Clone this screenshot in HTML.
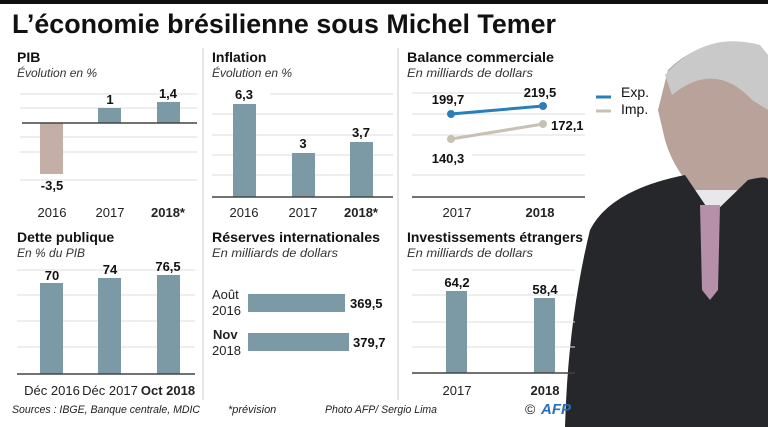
<!DOCTYPE html>
<html><head><meta charset="utf-8"><style>
html,body{margin:0;padding:0;background:#fff;}
svg{display:block;font-family:"Liberation Sans",sans-serif;}
.t{font-weight:bold;font-size:14px;fill:#111}
.s{font-style:italic;font-size:12px;fill:#333}
.v{font-weight:bold;font-size:13px;fill:#111}
.y{font-size:13px;fill:#222}
.g{stroke:#ddd;stroke-width:1}
.a{stroke:#444;stroke-width:1.5}
.b{fill:#7b9aa6}
</style></head><body>
<svg width="768" height="427" viewBox="0 0 768 427">
<rect x="0" y="0" width="768" height="4" fill="#111"/>
<text x="12" y="33" font-size="27" font-weight="bold" fill="#111" textLength="544" lengthAdjust="spacingAndGlyphs">L’économie brésilienne sous Michel Temer</text>
<line x1="203" y1="48" x2="203" y2="400" stroke="#ccc"/>
<line x1="398" y1="48" x2="398" y2="400" stroke="#ccc"/>
<!-- photo approximation -->
<path d="M668 70 Q700 38 745 45 L768 60 L768 200 L740 205 L705 200 Q675 175 665 140 L658 110 Z" fill="#b8a29a"/>
<path d="M665 75 Q705 30 760 45 L768 55 L768 110 L752 100 Q715 60 672 95 Z" fill="#c9c9c9"/>
<path d="M690 190 L745 190 L752 225 L712 260 L682 225 Z" fill="#e8e8ea"/>
<path d="M590 230 Q610 190 685 175 L712 215 L748 180 Q768 175 768 180 L768 427 L565 427 Q568 320 590 230 Z" fill="#26272b"/>
<path d="M700 205 L720 205 L718 290 L710 300 L702 290 Z" fill="#b68fa8"/>
<!-- PIB -->
<text class="t" x="17" y="62">PIB</text><text class="s" x="17" y="77">Évolution en %</text>
<g class="g"><line x1="20" y1="94" x2="197" y2="94"/><line x1="20" y1="108" x2="197" y2="108"/><line x1="20" y1="137" x2="197" y2="137"/><line x1="20" y1="152" x2="197" y2="152"/><line x1="20" y1="180" x2="197" y2="180"/></g>
<rect x="40" y="123" width="23" height="51" fill="#c4afa6"/>
<rect class="b" x="98" y="108" width="23" height="15"/><rect class="b" x="157" y="102" width="23" height="21"/>
<line class="a" x1="22" y1="123" x2="197" y2="123"/>
<text class="v" x="52" y="190" text-anchor="middle">-3,5</text><text class="v" x="110" y="104" text-anchor="middle">1</text><text class="v" x="168" y="98" text-anchor="middle">1,4</text>
<text class="y" x="52" y="217" text-anchor="middle">2016</text><text class="y" x="110" y="217" text-anchor="middle">2017</text><text class="y" x="168" y="217" text-anchor="middle" font-weight="bold">2018*</text>
<!-- Inflation -->
<text class="t" x="212" y="62">Inflation</text><text class="s" x="212" y="77">Évolution en %</text>
<g class="g"><line x1="270" y1="94" x2="393" y2="94"/><line x1="212" y1="114" x2="393" y2="114"/><line x1="212" y1="135" x2="393" y2="135"/><line x1="212" y1="155" x2="393" y2="155"/><line x1="212" y1="175" x2="393" y2="175"/></g>
<rect class="b" x="233" y="104" width="23" height="93"/><rect class="b" x="292" y="153" width="23" height="44"/><rect class="b" x="350" y="142" width="23" height="55"/>
<line class="a" x1="212" y1="197" x2="393" y2="197"/>
<text class="v" x="244" y="99" text-anchor="middle">6,3</text><text class="v" x="303" y="148" text-anchor="middle">3</text><text class="v" x="361" y="137" text-anchor="middle">3,7</text>
<text class="y" x="244" y="217" text-anchor="middle">2016</text><text class="y" x="303" y="217" text-anchor="middle">2017</text><text class="y" x="361" y="217" text-anchor="middle" font-weight="bold">2018*</text>
<!-- Balance -->
<text class="t" x="407" y="62" textLength="147" lengthAdjust="spacingAndGlyphs">Balance commerciale</text><text class="s" x="407" y="77" textLength="126" lengthAdjust="spacingAndGlyphs">En milliards de dollars</text>
<g class="g"><line x1="412" y1="93" x2="530" y2="93"/><line x1="412" y1="114" x2="585" y2="114"/><line x1="412" y1="135" x2="585" y2="135"/><line x1="472" y1="155" x2="585" y2="155"/><line x1="412" y1="175" x2="585" y2="175"/></g>
<line class="a" x1="412" y1="197" x2="585" y2="197"/>
<line x1="451" y1="114" x2="543" y2="106" stroke="#2a7fba" stroke-width="3"/>
<circle cx="451" cy="114" r="4" fill="#2a7fba"/><circle cx="543" cy="106" r="4" fill="#2a7fba"/>
<line x1="451" y1="139" x2="543" y2="124" stroke="#c8c0b4" stroke-width="3"/>
<circle cx="451" cy="139" r="4" fill="#c8c0b4"/><circle cx="543" cy="124" r="4" fill="#c8c0b4"/>
<text class="v" x="448" y="104" text-anchor="middle">199,7</text><text class="v" x="540" y="97" text-anchor="middle">219,5</text>
<text class="v" x="448" y="163" text-anchor="middle">140,3</text><text class="v" x="551" y="130">172,1</text>
<text class="y" x="457" y="217" text-anchor="middle">2017</text><text class="y" x="540" y="217" text-anchor="middle" font-weight="bold">2018</text>
<line x1="596" y1="97" x2="611" y2="97" stroke="#2a7fba" stroke-width="3"/><text x="621" y="97" font-size="14" fill="#111">Exp.</text>
<line x1="596" y1="111" x2="611" y2="111" stroke="#c8c0b4" stroke-width="3"/><text x="621" y="114" font-size="14" fill="#111">Imp.</text>
<!-- Dette -->
<text class="t" x="17" y="242">Dette publique</text><text class="s" x="17" y="257">En % du PIB</text>
<g class="g"><line x1="17" y1="270" x2="195" y2="270"/><line x1="17" y1="295" x2="195" y2="295"/><line x1="17" y1="321" x2="195" y2="321"/><line x1="17" y1="347" x2="195" y2="347"/></g>
<rect class="b" x="40" y="283" width="23" height="91"/><rect class="b" x="98" y="278" width="23" height="96"/><rect class="b" x="157" y="275" width="23" height="99"/>
<line class="a" x1="17" y1="374" x2="195" y2="374"/>
<text class="v" x="52" y="280" text-anchor="middle">70</text><text class="v" x="110" y="274" text-anchor="middle">74</text><text class="v" x="168" y="271" text-anchor="middle">76,5</text>
<text class="y" x="52" y="395" text-anchor="middle" font-size="12">Déc 2016</text><text class="y" x="110" y="395" text-anchor="middle" font-size="12">Déc 2017</text><text class="y" x="168" y="395" text-anchor="middle" font-size="12" font-weight="bold">Oct 2018</text>
<!-- Reserves -->
<text class="t" x="212" y="242" textLength="168" lengthAdjust="spacingAndGlyphs">Réserves internationales</text><text class="s" x="212" y="257" textLength="126" lengthAdjust="spacingAndGlyphs">En milliards de dollars</text>
<rect class="b" x="248" y="294" width="97" height="18"/><rect class="b" x="248" y="333" width="101" height="18"/>
<text class="y" x="212" y="299">Août</text><text class="y" x="212" y="315">2016</text>
<text class="y" x="213" y="339" font-weight="bold">Nov</text><text class="y" x="212" y="355">2018</text>
<text class="v" x="350" y="308">369,5</text><text class="v" x="353" y="347">379,7</text>
<!-- Invest -->
<text class="t" x="407" y="242" textLength="176" lengthAdjust="spacingAndGlyphs">Investissements étrangers</text><text class="s" x="407" y="257" textLength="126" lengthAdjust="spacingAndGlyphs">En milliards de dollars</text>
<g class="g"><line x1="412" y1="270" x2="575" y2="270"/><line x1="412" y1="295" x2="575" y2="295"/><line x1="412" y1="322" x2="575" y2="322"/><line x1="412" y1="347" x2="575" y2="347"/></g>
<rect class="b" x="446" y="291" width="21" height="82"/><rect class="b" x="534" y="298" width="21" height="75"/>
<line class="a" x1="412" y1="373" x2="575" y2="373"/>
<text class="v" x="457" y="287" text-anchor="middle">64,2</text><text class="v" x="545" y="294" text-anchor="middle">58,4</text>
<text class="y" x="457" y="395" text-anchor="middle">2017</text><text class="y" x="545" y="395" text-anchor="middle" font-weight="bold">2018</text>
<!-- footer -->
<g font-style="italic" font-size="11" fill="#222"><text x="12" y="413" textLength="188" lengthAdjust="spacingAndGlyphs">Sources : IBGE, Banque centrale, MDIC</text><text x="228" y="413">*prévision</text><text x="325" y="413" textLength="112" lengthAdjust="spacingAndGlyphs">Photo AFP/ Sergio Lima</text></g>
<text x="525" y="414" font-size="14" fill="#222">©</text>
<text x="541" y="414" font-size="15" font-weight="bold" font-style="italic" fill="#2a6fc0">AFP</text>
</svg>
</body></html>
